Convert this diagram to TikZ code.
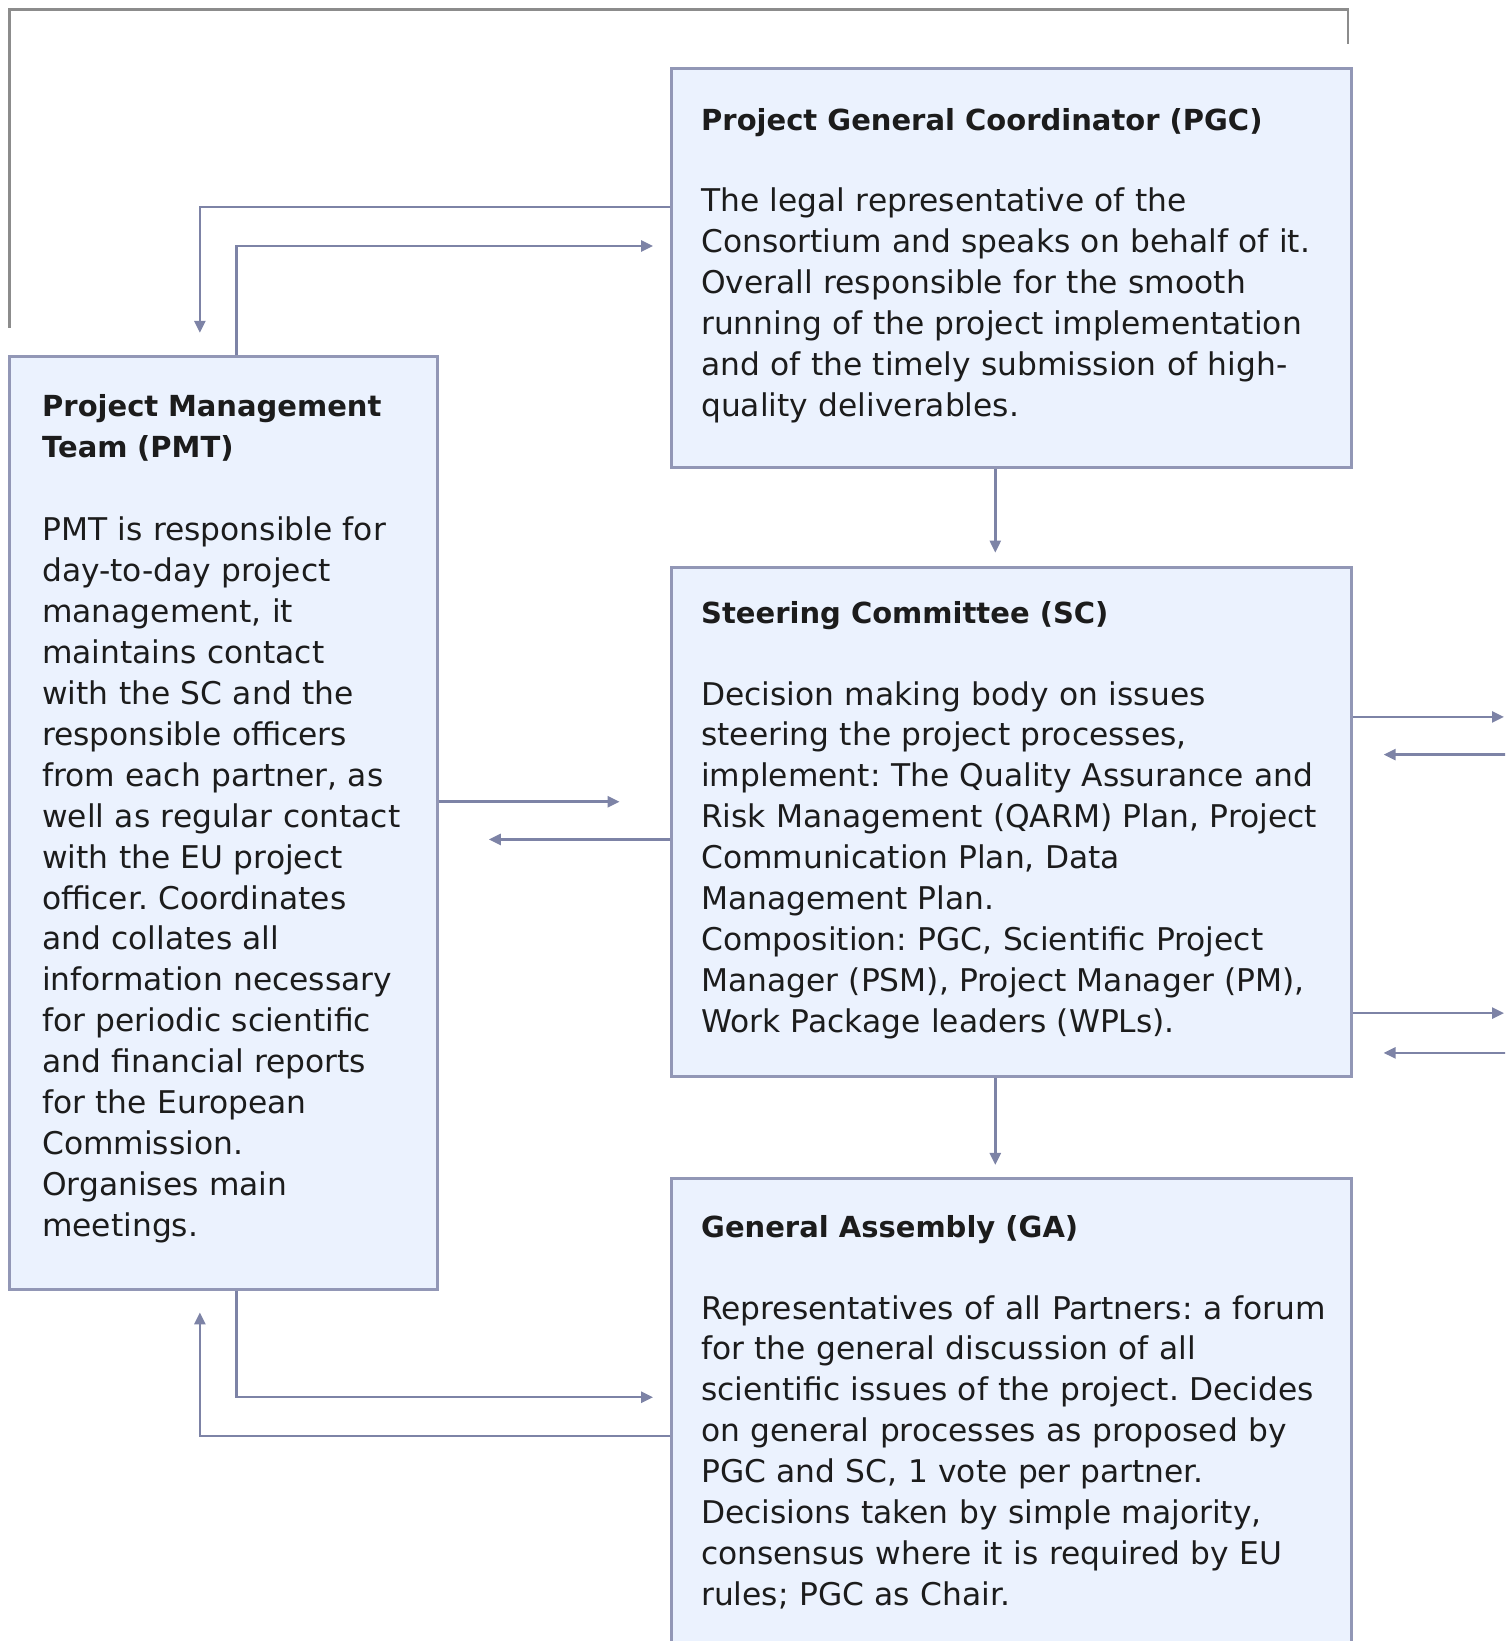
\documentclass[tikz,border=0pt]{standalone}
\usepackage{fontspec}
\setmainfont{DejaVu Sans}
\usetikzlibrary{arrows.meta}
\definecolor{boxfill}{HTML}{EBF2FE}
\definecolor{boxline}{HTML}{9297B6}
\definecolor{connline}{HTML}{7D83A6}
\definecolor{topgray}{HTML}{8C8C8C}
\definecolor{txt}{HTML}{1C1C1C}
\frenchspacing
\begin{document}
\begin{tikzpicture}[x=1pt,y=-1pt,
  orgbox/.style={draw=boxline, fill=boxfill, line width=2.5pt, anchor=north west, inner sep=0pt},
  ttl/.style={anchor=base west, inner sep=0pt, text=txt, font=\fontsize{29}{40.9}\selectfont\bfseries},
  ttlm/.style={anchor=north west, inner sep=0pt, text=txt, align=left, text width=420pt, font=\fontsize{29}{40.9}\selectfont\bfseries},
  bodytxt/.style={anchor=north west, inner sep=0pt, text=txt, align=left, font=\fontsize{31.3}{40.9}\selectfont},
  conn/.style={draw=connline, line width=2.5pt, -{Triangle[length=12pt,width=11pt]}},
  topline/.style={draw=topgray, line width=2.5pt}]
\useasboundingbox (0,0) rectangle (1505,1641);
\clip (0,0) rectangle (1505,1641);

% boxes
\node[orgbox, minimum width=680pt, minimum height=399pt] (pgc) at (670,67) {};
\node[orgbox, minimum width=428pt, minimum height=933pt] (pmt) at (8.4,355) {};
\node[orgbox, minimum width=680pt, minimum height=509pt] (sc) at (670,566) {};
\node[orgbox, minimum width=680pt, minimum height=500pt] (ga) at (670,1177) {};

% texts
\node[ttl] (pgct) at (701,130) {Project General Coordinator (PGC)};
\node[bodytxt, text width=640pt] (pgcb) at (701,183.1) {\strut The legal representative of the\\
Consortium and speaks on behalf of it.\\
Overall responsible for the smooth\\
running of the project implementation\\
and of the timely submission of high-\\
quality deliverables.};

\node[ttlm] (pmtt) at (42,387.4) {\strut Project Management\\Team (PMT)};
\node[bodytxt, text width=420pt] (pmtb) at (42,512.1) {\strut PMT is responsible for\\
day-to-day project\\
management, it\\
maintains contact\\
with the SC and the\\
responsible officers\\
from each partner, as\\
well as regular contact\\
with the EU project\\
officer. Coordinates\\
and collates all\\
information necessary\\
for periodic scientific\\
and financial reports\\
for the European\\
Commission.\\
Organises main\\
meetings.};

\node[ttl] (sct) at (701,623) {Steering Committee (SC)};
\node[bodytxt, text width=640pt] (scb) at (701,676.2) {\strut Decision making body on issues\\
steering the project processes,\\
implement: The Quality Assurance and\\
Risk Management (QARM) Plan, Project\\
Communication Plan, Data\\
Management Plan.\\
Composition: PGC, Scientific Project\\
Manager (PSM), Project Manager (PM),\\
Work Package leaders (WPLs).};

\node[ttl] (gat) at (701,1237) {General Assembly (GA)};
\node[bodytxt, text width=640pt] (gab) at (701,1290.2) {\strut Representatives of all Partners: a forum\\
for the general discussion of all\\
scientific issues of the project. Decides\\
on general processes as proposed by\\
PGC and SC, 1 vote per partner.\\
Decisions taken by simple majority,\\
consensus where it is required by EU\\
rules; PGC as Chair.};

% free ends
\coordinate (t1) at (9.4,327.6);
\coordinate (t2) at (1348,44);
\coordinate (a1) at (199.9,332.8);
\coordinate (a2) at (653.1,246);
\coordinate (a3) at (995.3,552.6);
\coordinate (a4) at (619.6,801.7);
\coordinate (a5) at (488.8,839.4);
\coordinate (r1) at (1504,716.9);
\coordinate (r2s) at (1506,754.6);
\coordinate (r2e) at (1383.6,754.6);
\coordinate (r3) at (1504,1013.1);
\coordinate (r4s) at (1506,1052.9);
\coordinate (r4e) at (1383.6,1052.9);
\coordinate (a6) at (995.3,1164.9);
\coordinate (a7) at (653.1,1397.2);
\coordinate (a8) at (199.9,1312.4);

% connectors
\draw[topline] (t1) |- (1348,9.4) -- (t2);
\draw[conn] (pgc.west |- 0,207.2) -| (a1);
\draw[conn] (pmt.north -| 236.5,0) |- (a2);
\draw[conn] (pgc.south -| a3) -- (a3);
\draw[conn] (pmt.east |- a4) -- (a4);
\draw[conn] (sc.west |- a5) -- (a5);
\draw[conn] (sc.east |- r1) -- (r1);
\draw[conn] (r2s) -- (r2e);
\draw[conn] (sc.east |- r3) -- (r3);
\draw[conn] (r4s) -- (r4e);
\draw[conn] (sc.south -| a6) -- (a6);
\draw[conn] (pmt.south -| 236.5,0) |- (a7);
\draw[conn] (ga.west |- 0,1436) -| (a8);
\end{tikzpicture}
\end{document}
